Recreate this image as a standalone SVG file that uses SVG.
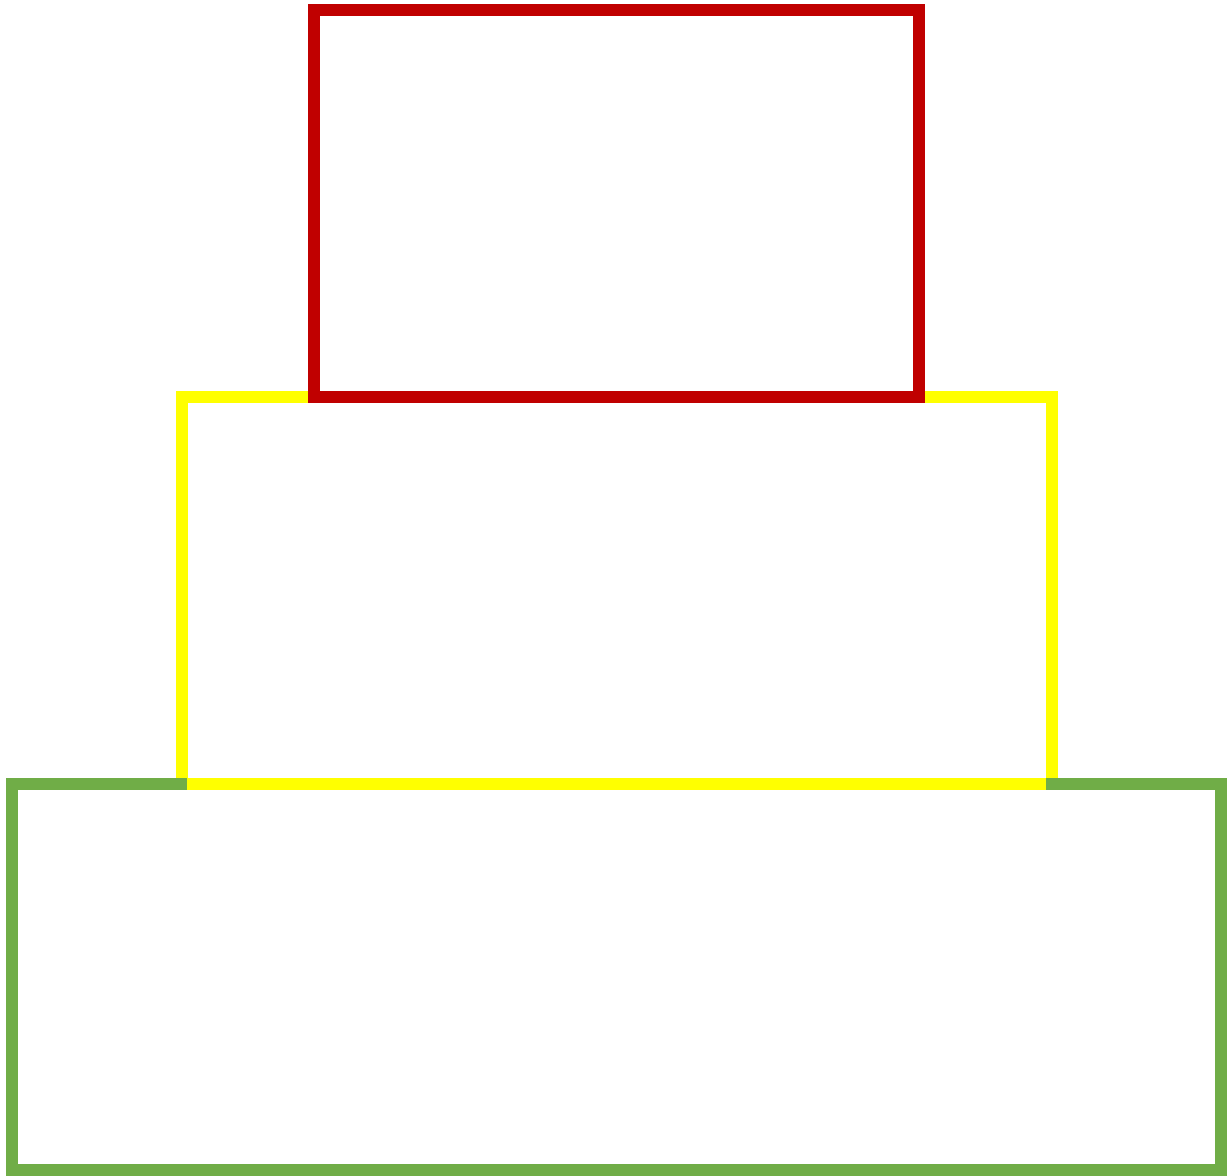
<svg xmlns="http://www.w3.org/2000/svg" width="1228" height="1176" viewBox="0 0 1228 1176">
<style>
.box{fill:none;stroke-width:12;stroke-linejoin:miter}
.red{stroke:#C00000}
.yellow{stroke:#FFFF00}
.green{stroke:#70AD47}
</style>
<rect x="0" y="0" width="1228" height="1176" fill="#FFFFFF"/>
<g id="node-middle">
<rect class="box yellow" x="182" y="397" width="870" height="387"/>
</g>
<g id="node-top">
<rect class="box red" x="314" y="10" width="605" height="387"/>
</g>
<g id="node-bottom">
<rect class="box green" x="12" y="784" width="1209" height="386"/>
</g>
<g id="node-middle-base">
<line class="box yellow" x1="187" y1="784" x2="1046" y2="784"/>
</g>
<g id="connectors"></g>
</svg>
